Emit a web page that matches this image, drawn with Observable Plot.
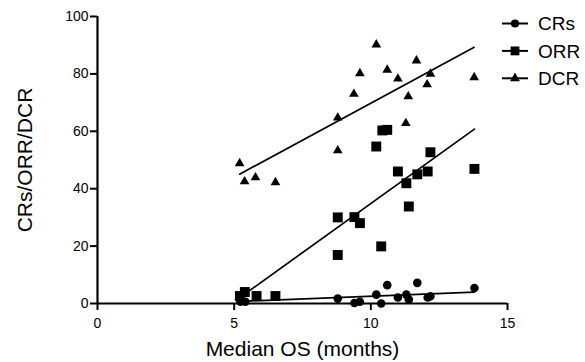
<!DOCTYPE html>
<html><head><meta charset="utf-8">
<script src="https://cdn.jsdelivr.net/npm/d3@7"></script>
<script src="https://cdn.jsdelivr.net/npm/@observablehq/plot@0.6"></script>
<style>
body{margin:0;background:#fff;font-family:Arial,"Liberation Sans",sans-serif}
#wrap{position:relative;width:585px;height:362px}
#legend{position:absolute;left:0;top:0;pointer-events:none}
</style>
</head><body><div id="wrap"></div>
<script>
const seriesNames = ["CRs", "ORR", "DCR"];
const seriesSymbols = ["circle", "square", "triangle"];
const xTicks = [0, 5, 10, 15];
const yTicks = [0, 20, 40, 60, 80, 100];
const xLabel = "Median OS (months)";
const yLabel = "CRs/ORR/DCR";

// CRs (circles)
const crX = [5.23, 5.41, 5.82, 6.51, 8.79, 9.40, 9.60, 10.20, 10.60, 10.38, 10.99, 11.30, 11.39, 11.70, 12.08, 12.18, 13.79];
const crY = [0.6, 0.6, 2.4, 2.4, 1.7, 0.2, 0.6, 3.1, 6.4, 0.0, 2.1, 3.1, 1.4, 7.2, 2.1, 2.5, 5.4];
// ORR (squares)
const orrX = [5.21, 5.39, 5.82, 6.51, 10.99, 11.70, 12.08, 11.30, 13.79, 11.39, 8.79, 9.40, 9.60, 10.38, 8.79, 10.42, 10.60, 10.20, 12.18];
const orrY = [2.6, 4.0, 2.6, 2.6, 46.0, 45.0, 46.0, 41.9, 46.9, 33.8, 30.0, 30.1, 28.0, 19.9, 16.9, 60.3, 60.5, 54.7, 52.7];
// DCR (triangles)
const dcrX = [5.20, 5.38, 5.78, 6.51, 10.20, 9.60, 10.60, 11.67, 10.99, 12.18, 12.06, 9.38, 11.37, 8.79, 11.28, 8.79, 13.78];
const dcrY = [48.8, 42.5, 43.9, 42.2, 90.2, 80.2, 81.4, 84.6, 78.3, 80.0, 76.3, 73.0, 72.1, 64.7, 62.8, 53.3, 78.8];

const rows = (xs, ys, s) => xs.map((x, i) => ({x, y: ys[i], s}));
const cr = rows(crX, crY, seriesNames[0]);
const orr = rows(orrX, orrY, seriesNames[1]);
const dcr = rows(dcrX, dcrY, seriesNames[2]);
const sets = [cr, orr, dcr];
const radii = [4.3, 5.6, 3.6];

const chart = Plot.plot({
  width: 585, height: 362,
  marginLeft: 97, marginRight: 78, marginTop: 16, marginBottom: 59,
  x: {domain: [0, 15]},
  y: {domain: [0, 100]},
  style: {fontFamily: "Arial, 'Liberation Sans', sans-serif", color: "black", background: "white"},
  marks: [
    Plot.axisY({ticks: yTicks, tickSize: 7, tickPadding: 2, fontSize: 14, strokeWidth: 2, label: null}),
    Plot.axisX({ticks: xTicks, tickSize: 7, tickPadding: 8, fontSize: 14, strokeWidth: 2, label: null}),
    Plot.ruleX([0], {strokeWidth: 2.2}),
    Plot.ruleY([0], {strokeWidth: 2.2}),
    ...sets.map(d => Plot.linearRegressionY(d, {x: "x", y: "y", ci: 0, stroke: "black", strokeWidth: 1.7})),
    ...sets.map((d, i) => Plot.dot(d, {x: "x", y: "y", symbol: () => seriesSymbols[i], r: radii[i], fill: "black", stroke: "none"})),
    Plot.text([xLabel], {text: d => d, frameAnchor: "bottom", textAnchor: "middle", lineAnchor: "middle", dy: 46, fontSize: 21}),
    Plot.text([yLabel], {text: d => d, frameAnchor: "left", textAnchor: "middle", lineAnchor: "middle", dx: -72, rotate: -90, fontSize: 21})
  ]
});
const wrap = document.getElementById("wrap");
wrap.appendChild(chart);

// legend overlay
const symTypes = {circle: d3.symbolCircle, square: d3.symbolSquare, triangle: d3.symbolTriangle};
const symSizes = [52, 78, 42];
const leg = d3.select(wrap).append("svg").attr("id", "legend").attr("width", 585).attr("height", 362);
seriesNames.forEach((name, i) => {
  const y = 23.5 + 27.4 * i;
  const g = leg.append("g").attr("transform", `translate(0,${y})`);
  g.append("line").attr("x1", 502).attr("x2", 528).attr("y1", 0).attr("y2", 0).attr("stroke", "black").attr("stroke-width", 2);
  g.append("path").attr("d", d3.symbol(symTypes[seriesSymbols[i]], symSizes[i])()).attr("transform", "translate(515,0)").attr("fill", "black");
  g.append("text").attr("x", 538).attr("y", 0).attr("dy", "0.35em").attr("font-size", 19)
    .attr("font-family", "Arial, 'Liberation Sans', sans-serif").text(name);
});
</script>
</body></html>
